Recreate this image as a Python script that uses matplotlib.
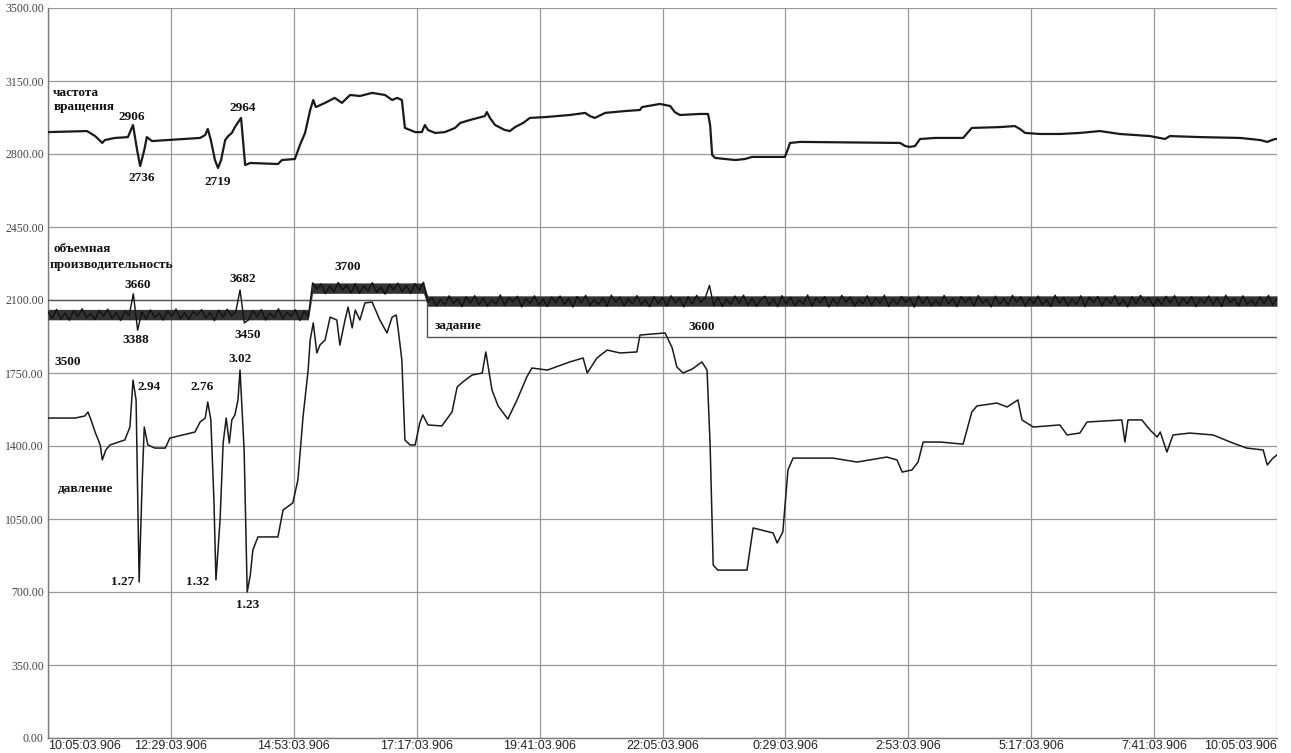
import numpy as np
import matplotlib
matplotlib.use("Agg")
import matplotlib.pyplot as plt

# ---------------- data ----------------
x_tick_hours = [0, 2.4, 4.8, 7.2, 9.6, 12.0, 14.4, 16.8, 19.2, 21.6, 24.0]
x_tick_labels = ["10:05:03.906", "12:29:03.906", "14:53:03.906", "17:17:03.906",
                 "19:41:03.906", "22:05:03.906", "0:29:03.906", "2:53:03.906",
                 "5:17:03.906", "7:41:03.906", "10:05:03.906"]
y_ticks = [0, 350, 700, 1050, 1400, 1750, 2100, 2450, 2800, 3150, 3500]

# rotation speed (частота вращения), chart units
speed_t = [0, 0.76, 0.92, 1.06, 1.11, 1.31, 1.56, 1.66, 1.74, 1.80, 1.88, 1.93, 2.03, 2.34,
           2.97, 3.07, 3.12, 3.18, 3.26, 3.32, 3.38, 3.46, 3.52, 3.59, 3.65, 3.77, 3.85,
           3.95, 4.49, 4.57, 4.82, 4.92, 5.02, 5.12, 5.18, 5.23, 5.41, 5.60, 5.74, 5.90,
           6.09, 6.33, 6.58, 6.72, 6.82, 6.91, 6.97, 7.17, 7.30, 7.36, 7.42, 7.56, 7.75,
           7.95, 8.05, 8.24, 8.53, 8.57, 8.63, 8.73, 8.92, 9.02, 9.12, 9.28, 9.41, 9.71,
           10.19, 10.49, 10.58, 10.68, 10.88, 11.27, 11.56, 11.60, 11.95, 12.15, 12.24,
           12.34, 12.73, 12.89, 12.93, 12.97, 13.03, 13.42, 13.61, 13.75, 14.10, 14.39,
           14.45, 14.49, 14.69, 16.64, 16.74, 16.83, 16.93, 17.03, 17.32, 17.87, 18.04,
           18.59, 18.88, 18.98, 19.08, 19.37, 19.76, 20.15, 20.54, 20.93, 21.52, 21.81,
           21.91, 22.50, 23.28, 23.67, 23.81, 23.96, 24.0]
speed_v = [2905, 2910, 2886, 2853, 2867, 2877, 2881, 2939, 2819, 2742, 2819, 2881, 2862, 2867,
           2877, 2891, 2920, 2867, 2771, 2733, 2771, 2867, 2886, 2901, 2929, 2973, 2747,
           2757, 2752, 2771, 2776, 2843, 2901, 3011, 3059, 3025, 3045, 3069, 3045, 3083,
           3078, 3093, 3083, 3059, 3069, 3059, 2925, 2905, 2905, 2939, 2915, 2901, 2905,
           2925, 2949, 2963, 2982, 3001, 2973, 2939, 2915, 2910, 2929, 2949, 2973, 2977,
           2987, 2997, 2982, 2973, 2997, 3006, 3011, 3025, 3040, 3030, 3001,
           2987, 2992, 2992, 2939, 2795, 2781, 2771, 2776, 2786, 2786, 2786,
           2824, 2853, 2858, 2853, 2838, 2834, 2838, 2872, 2877, 2877, 2925,
           2929, 2934, 2920, 2901, 2896, 2896, 2901, 2910, 2896, 2886, 2872,
           2886, 2881, 2877, 2867, 2858, 2872, 2872]

# pressure (давление), chart units
press_t = [0, 0.53, 0.72, 0.78, 0.84, 0.92, 1.02, 1.06, 1.13, 1.21, 1.50, 1.60, 1.66, 1.72,
           1.78, 1.84, 1.88, 1.95, 2.09, 2.29, 2.38, 2.87, 2.97, 3.07, 3.12, 3.18, 3.24,
           3.28, 3.36, 3.42, 3.48, 3.54, 3.59, 3.65, 3.71, 3.75, 3.83, 3.89, 3.95, 4.00,
           4.10, 4.49, 4.59, 4.78, 4.88, 4.98, 5.08, 5.12, 5.18, 5.25, 5.31, 5.41, 5.51,
           5.64, 5.70, 5.80, 5.86, 5.94, 6.00, 6.09, 6.19, 6.33, 6.48, 6.62, 6.72, 6.80,
           6.84, 6.91, 6.97, 7.07, 7.17, 7.26, 7.32, 7.42, 7.69, 7.89, 7.99, 8.10, 8.28,
           8.48, 8.55, 8.67, 8.79, 8.98, 9.16, 9.35, 9.45, 9.75, 10.19, 10.45, 10.53,
           10.72, 10.92, 11.17, 11.50, 11.56, 12.05, 12.19, 12.28, 12.40, 12.58, 12.77,
           12.87, 12.93, 12.99, 13.08, 13.65, 13.77, 14.16, 14.24, 14.35, 14.45, 14.55,
           15.33, 15.80, 16.38, 16.58, 16.68, 16.87, 16.99, 17.09, 17.42, 17.87, 18.04,
           18.14, 18.53, 18.73, 18.94, 19.02, 19.24, 19.76, 19.90, 20.15, 20.29, 20.97,
           21.03, 21.09, 21.36, 21.52, 21.66, 21.72, 21.85, 21.97, 22.30, 22.75, 23.14,
           23.41, 23.73, 23.81, 23.92, 24.0]
press_v = [1534, 1534, 1544, 1563, 1525, 1467, 1405, 1333, 1381, 1405, 1429, 1491, 1716, 1621,
           748, 1237, 1491, 1405, 1390, 1390, 1438, 1467, 1515, 1534, 1611, 1525, 1141,
           758, 1045, 1414, 1534, 1414, 1525, 1549, 1621, 1764, 1381, 700, 781, 901,
           964, 964, 1093, 1127, 1237, 1539, 1764, 1908, 1990, 1846, 1884, 1908, 2018,
           2004, 1884, 2004, 2066, 1966, 2052, 2004, 2086, 2090, 2004, 1942, 2018, 2028,
           1956, 1812, 1429, 1405, 1405, 1510, 1549, 1501, 1496, 1563, 1683, 1707, 1740,
           1750, 1851, 1668, 1592, 1529, 1621, 1731, 1774, 1764, 1803, 1822, 1750,
           1822, 1860, 1846, 1851, 1932, 1942, 1870, 1779, 1750, 1769, 1803, 1764,
           1405, 829, 805, 805, 1007, 983, 935, 988, 1285, 1342,
           1342, 1323, 1347, 1333, 1275, 1285, 1323, 1419, 1419, 1409, 1563,
           1592, 1606, 1587, 1621, 1525, 1491, 1501, 1453, 1462, 1515, 1525,
           1419, 1525, 1525, 1477, 1443, 1467, 1371, 1453, 1462, 1453, 1414,
           1390, 1381, 1309, 1342, 1357]

# volumetric flow (объемная производительность): segment levels + read-off ripple
flow_seg_end = [5.10, 7.40, 24.0]
flow_seg_level = [2030, 2157, 2095]
flow_ripple = [
    12, -18, 25, -22, 8, -27, 19, -10, 28, -15, 4, -24, 20, -8, 26, -19, 11, -28, 17, -5, 100, -75, 14, -21,
    22, -14, 6, -26, 18, -9, 27, -20, 10, -23, 15, -3, 24, -17, 9, -29, 21, -12, 26, -6, 13, 118, -40, -25,
    19, -11, 24, -26, 7, -16, 28, -21, 12, -7, 23, -28, 16, -13, 25, -4, 20, -27, 10, -18, 27, -9, 15, -24,
    21, -25, 9, -14, 26, -20, 5, -29, 18, -8, 24, -17, 13, -26, 22, -11, 28, -6, 17, -23, 8, -19, 25, -13,
    11, -27, 20, -9, 26, -18, 14, -24, 6, -15, 29, -21, 17, -4, 23, -28, 12, -12, 25, -20, 9, -26, 19, -7,
    24, -16, 13, -29, 21, -10, 27, -22, 8, -18, 16, -25, 28, -5, 19, -23, 11, -14, 26, -19, 7, -27, 22, -12,
    17, -24, 25, -8, 12, -28, 20, -15, 27, -6, 14, 75, -22, 18, -26, 9, -17, 24, -11, 28, -21, 13, -25, 6,
    23, -19, 10, -27, 26, -13, 18, -22, 5, -16, 29, -24, 15, -9, 21, -28, 12, -18, 27, -5, 19, -25, 8, -14,
    25, -21, 16, -10, 28, -26, 11, -17, 22, -7, 14, -29, 24, -12, 19, -23, 6, -20, 27, -15, 13, -27, 21, -8,
    18, -24, 26, -11, 9, -28, 23, -16, 12, -21, 27, -6, 20, -25, 15, -13, 24, -19, 7, -26, 28, -10, 17, -22,
    10, -17, 25, -27, 19, -8, 22, -23, 14, -12, 26, -20, 8, -28, 21, -14, 27, -5, 16, -24, 11, -18, 23, -9,
    26, -22, 13, -15, 20, -27, 9, -11, 24, -19, 17, -26, 28, -7, 12, -23, 25, -16, 6, -21, 19, -13, 27, -20,
    14]

# setpoint (задание)
setpoint_t = [0, 7.40, 24.0]
setpoint_v = [2100, 1923, 1923]

# ---------------- figure ----------------
W, H = 1291, 753
fig = plt.figure(figsize=(W / 100, H / 100), dpi=100)
fig.patch.set_facecolor("white")
ax = fig.add_axes([48 / W, 15 / H, 1229 / W, 730 / H])
ax.set_xlim(0, 24)
ax.set_ylim(0, 3500)

for s in ["top", "right"]:
    ax.spines[s].set_visible(False)
for s in ["left", "bottom"]:
    ax.spines[s].set_color("#7a7a7a")
    ax.spines[s].set_linewidth(1.0)

ax.set_yticks(y_ticks)
ax.set_yticklabels([f"{v:.2f}" for v in y_ticks], family="Liberation Serif",
                   fontsize=8.5, color="#444444")
ax.set_xticks(x_tick_hours)
ax.set_xticklabels(x_tick_labels, family="Liberation Sans", fontsize=9, color="#222222")
ax.tick_params(axis="both", length=0)
ax.tick_params(axis="y", pad=3)
ax.tick_params(axis="x", pad=1.5)
xl = ax.get_xticklabels()
xl[0].set_ha("left")
xl[-1].set_ha("right")

ax.grid(True, color="#999999", linewidth=0.9)
ax.set_axisbelow(True)

# flow band
t_flow = np.linspace(0, 24, len(flow_ripple))
idx = np.searchsorted(flow_seg_end, t_flow, side="left")
idx = np.clip(idx, 0, len(flow_seg_level) - 1)
level = np.array(flow_seg_level)[idx]
flow = level + np.array(flow_ripple)
ax.fill_between(t_flow, level - 25, level + 25, color="#333333", linewidth=0, zorder=3)
ax.plot(t_flow, flow, color="#111111", lw=1.0, zorder=4)

# setpoint
ax.plot(setpoint_t, setpoint_v, drawstyle="steps-post", color="#555555", lw=1.0, zorder=3)

# speed & pressure
ax.plot(speed_t, speed_v, color="#1a1a1a", lw=1.6, zorder=5)
ax.plot(press_t, press_v, color="#1a1a1a", lw=1.1, zorder=5)

# ---------------- annotations ----------------
fs = dict(family="Liberation Serif", fontweight="bold", fontsize=9.5, color="#111111", zorder=6)
ax.text(0.10, 3092, "частота", ha="left", va="center", **fs)
ax.text(0.10, 3025, "вращения", ha="left", va="center", **fs)
ax.text(1.64, 2977, "2906", ha="center", va="center", **fs)
ax.text(1.84, 2685, "2736", ha="center", va="center", **fs)
ax.text(3.32, 2666, "2719", ha="center", va="center", **fs)
ax.text(3.81, 3020, "2964", ha="center", va="center", **fs)

ax.text(0.10, 2344, "объемная", ha="left", va="center", **fs)
ax.text(0.04, 2268, "производительность", ha="left", va="center", **fs)
ax.text(1.76, 2172, "3660", ha="center", va="center", **fs)
ax.text(3.81, 2201, "3682", ha="center", va="center", **fs)
ax.text(5.86, 2258, "3700", ha="center", va="center", **fs)
ax.text(1.72, 1908, "3388", ha="center", va="center", **fs)
ax.text(3.89, 1932, "3450", ha="center", va="center", **fs)
ax.text(0.39, 1803, "3500", ha="center", va="center", **fs)
ax.text(7.56, 1975, "задание", ha="left", va="center", **fs)
ax.text(12.77, 1971, "3600", ha="center", va="center", **fs)

ax.text(3.75, 1817, "3.02", ha="center", va="center", **fs)
ax.text(1.97, 1683, "2.94", ha="center", va="center", **fs)
ax.text(3.01, 1683, "2.76", ha="center", va="center", **fs)
ax.text(0.20, 1194, "давление", ha="left", va="center", **fs)
ax.text(1.46, 748, "1.27", ha="center", va="center", **fs)
ax.text(2.93, 748, "1.32", ha="center", va="center", **fs)
ax.text(3.89, 638, "1.23", ha="center", va="center", **fs)

fig.savefig("out.png", dpi=100, facecolor="white")
